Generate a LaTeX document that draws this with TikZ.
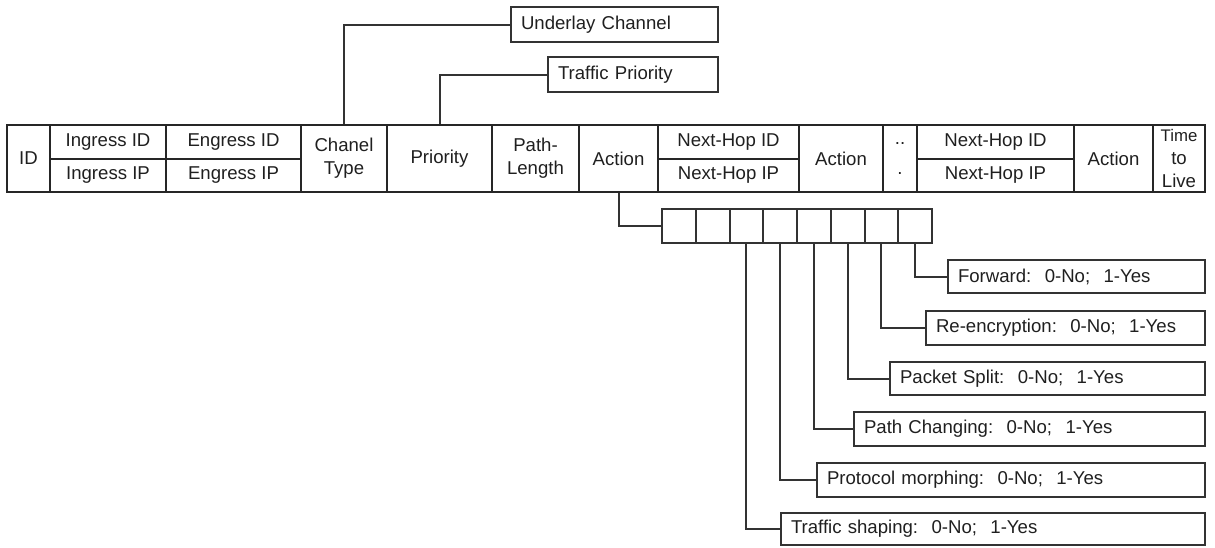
\documentclass[tikz,border=0pt]{standalone}
\usepackage{fontspec}
\setmainfont{Liberation Sans}
% full-width style separators
\newcommand{\wcolon}{:\hspace{0.72em}}
\newcommand{\wsemi}{;\hspace{0.72em}}
% table cell: name, x1, x2, y1, y2, text
\newcommand{\tcell}[6]{%
  \node[cell, minimum width={(#3-#2)*0.5pt}, minimum height={(#5-#4)*0.5pt}]
    (#1) at ({(#2+#3)/2},{(#4+#5)/2}) {#6};}
% label box with left-aligned text: name, x1, x2, y1, y2, text
\newcommand{\lbox}[6]{%
  \node[labelbox, text width={(#3-#2)*0.5pt-10pt}, minimum height={(#5-#4)*0.5pt}, anchor=west]
    (#1) at (#2,{(#4+#5)/2}) {#6};}
\begin{document}
\begin{tikzpicture}[x=0.5pt,y=-0.5pt,
  every node/.style={font=\fontsize{9.3}{11.5}\selectfont, text=black!88},
  cell/.style={draw=black!85, line width=1.2pt, inner sep=0pt, align=center},
  labelbox/.style={draw=black!80, line width=1pt, inner xsep=5pt, inner ysep=0pt, align=left},
  bit/.style={draw=black!80, line width=1pt, inner sep=0pt, minimum width=16.875pt, minimum height=17pt},
  link/.style={draw=black!80, line width=1pt}]
\useasboundingbox (0,0) rectangle (1215,547);

% header fields
\tcell{id}{7}{50}{125}{192}{ID}
\tcell{ingid}{50}{166}{125}{159}{Ingress ID}
\tcell{ingip}{50}{166}{159}{192}{Ingress IP}
\tcell{egid}{166}{301}{125}{159}{Engress ID}
\tcell{egip}{166}{301}{159}{192}{Engress IP}
\tcell{chan}{301}{387}{125}{192}{Chanel\\Type}
\tcell{prio}{387}{492}{125}{192}{Priority}
\tcell{plen}{492}{579}{125}{192}{Path-\\Length}
\tcell{acta}{579}{658}{125}{192}{Action}
\tcell{nhaid}{658}{799}{125}{159}{Next-Hop ID}
\tcell{nhaip}{658}{799}{159}{192}{Next-Hop IP}
\tcell{actb}{799}{883}{125}{192}{Action}
\tcell{dots}{883}{917}{125}{192}{..\\[3pt].}
\tcell{nhbid}{917}{1074}{125}{159}{Next-Hop ID}
\tcell{nhbip}{917}{1074}{159}{192}{Next-Hop IP}
\tcell{actc}{1074}{1153}{125}{192}{Action}
\tcell{ttl}{1153}{1205}{125}{192}{\fontsize{8.4}{10.4}\selectfont Time\\to\\Live}

% field annotations above
\lbox{uc}{510}{717}{7}{42}{Underlay Channel}
\lbox{tp}{547}{717}{57}{92}{Traffic Priority}
\draw[link] (chan.north) |- (uc.west);
\draw[link] (prio.north) |- (tp.west);

% action bit field
\foreach \i in {1,...,8}
  \node[bit] (bit\i) at ({662+(\i-0.5)*33.75},226) {};
\draw[link] (acta.south) |- (bit1.west);

% bit meanings
\lbox{fw}{947}{1204}{260}{293}{Forward\wcolon 0-No\wsemi 1-Yes}
\lbox{re}{925}{1204}{311}{345}{Re-encryption\wcolon 0-No\wsemi 1-Yes}
\lbox{ps}{889}{1204}{362}{395}{Packet Split\wcolon 0-No\wsemi 1-Yes}
\lbox{pc}{853}{1204}{412}{446}{Path Changing\wcolon 0-No\wsemi 1-Yes}
\lbox{pm}{816}{1204}{463}{497}{Protocol morphing\wcolon 0-No\wsemi 1-Yes}
\lbox{ts}{780}{1204}{513}{545}{Traffic shaping\wcolon 0-No\wsemi 1-Yes}

\draw[link] (bit8.south) |- (fw.west);
\draw[link] (bit7.south) |- (re.west);
\draw[link] (bit6.south) |- (ps.west);
\draw[link] (bit5.south) |- (pc.west);
\draw[link] (bit4.south) |- (pm.west);
\draw[link] (bit3.south) |- (ts.west);
\end{tikzpicture}
\end{document}
